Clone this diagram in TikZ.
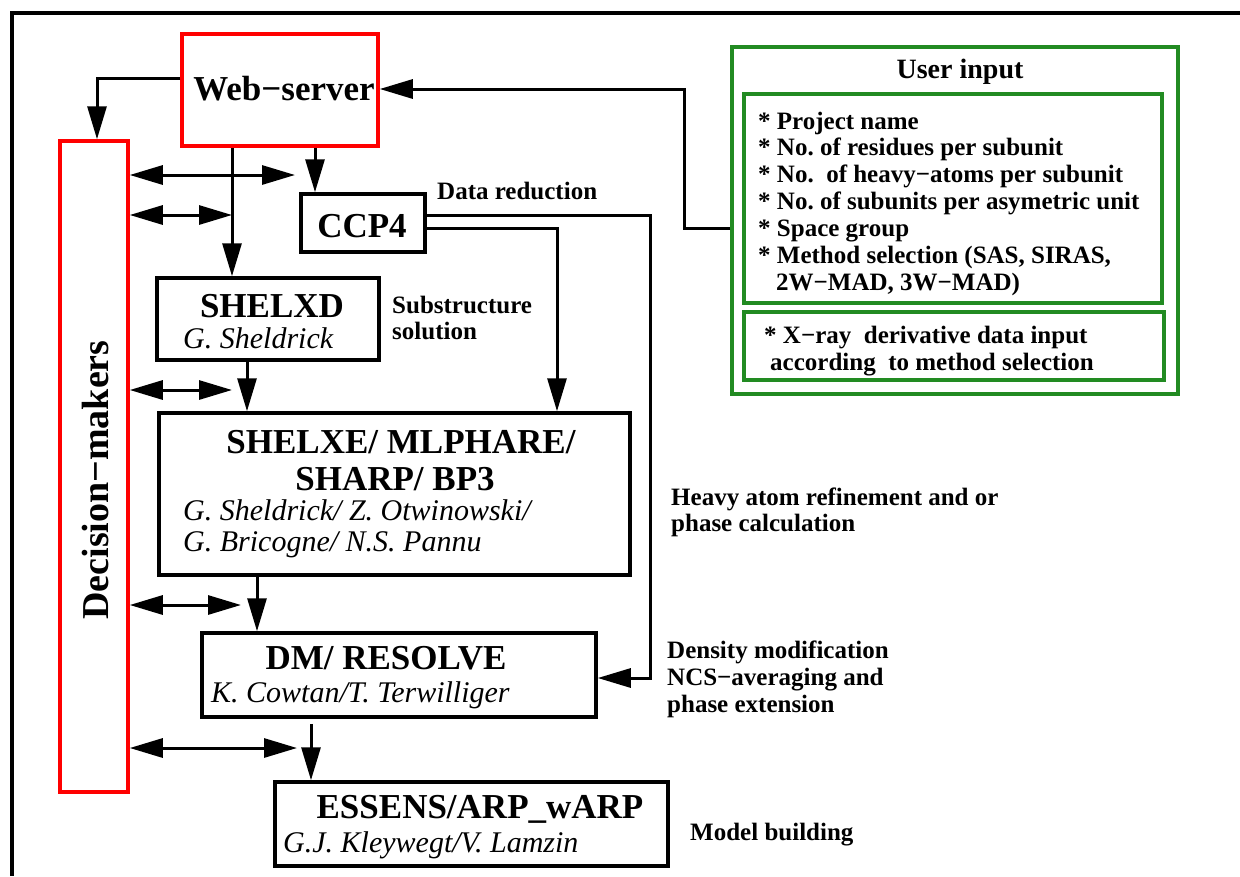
\documentclass[tikz,border=0pt]{standalone}
\usepackage{fontspec}
\setmainfont{Liberation Serif}
\usetikzlibrary{arrows.meta}
\definecolor{ugreen}{RGB}{34,139,34}
\definecolor{ured}{RGB}{255,0,0}
\frenchspacing
\begin{document}
\begin{tikzpicture}[x=1pt,y=-1pt,
  blackbox/.style={draw=black,line width=3.5pt,inner sep=0pt,rectangle},
  redbox/.style={draw=ured,line width=3.5pt,inner sep=0pt,rectangle},
  greenbox/.style={draw=ugreen,line width=3.5pt,inner sep=0pt,rectangle},
  ttl/.style={inner sep=0pt,anchor=base,font=\fontsize{35}{38}\selectfont\bfseries},
  auth/.style={inner sep=0pt,anchor=base west,font=\fontsize{30}{32}\selectfont\itshape},
  lbl/.style={inner sep=0pt,anchor=base west,font=\fontsize{25}{27}\selectfont\bfseries},
  arr/.style={line width=3pt,-{Triangle[length=33pt,width=19pt]}},
  darr/.style={line width=3pt,{Triangle[length=33pt,width=19pt]}-{Triangle[length=33pt,width=19pt]}}
]
\useasboundingbox (0,0) rectangle (1240,876);
\fill[white] (0,0) rectangle (1240,876);
% frame
\draw[line width=4pt] (10,13) -- (1240,13);
\draw[line width=4pt] (12,11) -- (12,876);

% boxes
\node[redbox,minimum width=196pt,minimum height=112pt] (web) at (280,90) {};
\node[ttl] (webt) at (284,100) {Web−server};

\node[redbox,minimum width=68pt,minimum height=651pt] (dec) at (94,466.5) {};
\node[inner sep=0pt,rotate=90,font=\fontsize{38}{40}\selectfont\bfseries] (dect) at (96,480) {Decision−makers};

\node[blackbox,minimum width=124pt,minimum height=58pt] (ccp) at (363,223) {};
\node[ttl] (ccpt) at (362,237) {CCP4};

\node[blackbox,minimum width=222pt,minimum height=82pt] (sd) at (268,319) {};
\node[ttl] (sdt) at (272,317) {SHELXD};
\node[auth] (sda) at (183,348) {G. Sheldrick};

\node[blackbox,minimum width=471pt,minimum height=162pt] (se) at (394.5,494) {};
\node[ttl] (set1) at (401,453) {SHELXE/ MLPHARE/};
\node[ttl] (set2) at (395,490) {SHARP/ BP3};
\node[auth] (sea1) at (183,520) {G. Sheldrick/ Z. Otwinowski/};
\node[auth] (sea2) at (183,551) {G. Bricogne/ N.S. Pannu};

\node[blackbox,minimum width=394pt,minimum height=84pt] (dm) at (399,675) {};
\node[ttl] (dmt) at (386,669) {DM/ RESOLVE};
\node[auth] (dma) at (211,702) {K. Cowtan/T. Terwilliger};

\node[blackbox,minimum width=393pt,minimum height=84pt] (es) at (471.5,824) {};
\node[ttl] (est) at (480,818) {ESSENS/ARP\_wARP};
\node[auth] (esa) at (283,852) {G.J. Kleywegt/V. Lamzin};

% user input
\node[greenbox,minimum width=446pt,minimum height=347pt] (uo) at (955,220.5) {};
\node[inner sep=0pt,anchor=base,font=\fontsize{28}{30}\selectfont\bfseries] (uot) at (960,78) {User input};
\node[greenbox,minimum width=418pt,minimum height=209pt] (ui1) at (953,198.5) {};
\node[greenbox,minimum width=420pt,minimum height=68pt] (ui2) at (954,346) {};
\node[lbl] (u1) at (758,129) {* Project name};
\node[lbl] (u2) at (758,155) {* No. of residues per subunit};
\node[lbl] (u3) at (758,182) {* No.\ \ of heavy−atoms per subunit};
\node[lbl] (u4) at (758,209) {* No. of subunits per asymetric unit};
\node[lbl] (u5) at (758,236) {* Space group};
\node[lbl] (u6) at (758,263) {* Method selection (SAS, SIRAS,};
\node[lbl] (u7) at (776,290) {2W−MAD, 3W−MAD)};
\node[lbl] (u8) at (764,343) {* X−ray\ \ derivative data input};
\node[lbl] (u9) at (770,370) {according\ \ to method selection};

% side labels
\node[lbl] (l1) at (437,199) {Data reduction};
\node[lbl] (l2) at (392,313) {Substructure};
\node[lbl] (l2b) at (392,339) {solution};
\node[lbl] (l3) at (671,505) {Heavy atom refinement and or};
\node[lbl] (l3b) at (671,531) {phase calculation};
\node[lbl] (l4) at (667,658) {Density modification};
\node[lbl] (l4b) at (667,685) {NCS−averaging and};
\node[lbl] (l4c) at (667,712) {phase extension};
\node[lbl] (l5) at (690,840) {Model building};

% free ends
\coordinate (e1) at (295,175);
\coordinate (e2) at (232,215);
\coordinate (e3) at (232,390);
\coordinate (e4) at (241,605);
\coordinate (e5) at (297,748);

% connectors
\draw[arr] (web.west |- 0,78) -| (dec.north -| 97,0);
\draw[arr] (web.south -| 232,0) -- (sd.north -| 232,0);
\draw[arr] (web.south -| 315,0) -- (ccp.north -| 315,0);
\draw[darr] (dec.east |- 0,175) -- (e1);
\draw[darr] (dec.east |- 0,215) -- (e2);
\draw[arr] (ccp.east |- 0,215) -- (650,215) -- (650,678) -- (dm.east |- 0,678);
\draw[arr] (ccp.east |- 0,228) -| (se.north -| 557,0);
\draw[arr] (sd.south -| 247,0) -- (se.north -| 247,0);
\draw[darr] (dec.east |- 0,390) -- (e3);
\draw[arr] (se.south -| 257,0) -- (dm.north -| 257,0);
\draw[darr] (dec.east |- 0,605) -- (e4);
\draw[arr,shorten <=5pt] (dm.south -| 311,0) -- (es.north -| 311,0);
\draw[darr] (dec.east |- 0,748) -- (e5);
\draw[arr] (uo.west |- 0,228) -- (684,228) -- (684,89) -- (web.east |- 0,89);
\end{tikzpicture}
\end{document}
